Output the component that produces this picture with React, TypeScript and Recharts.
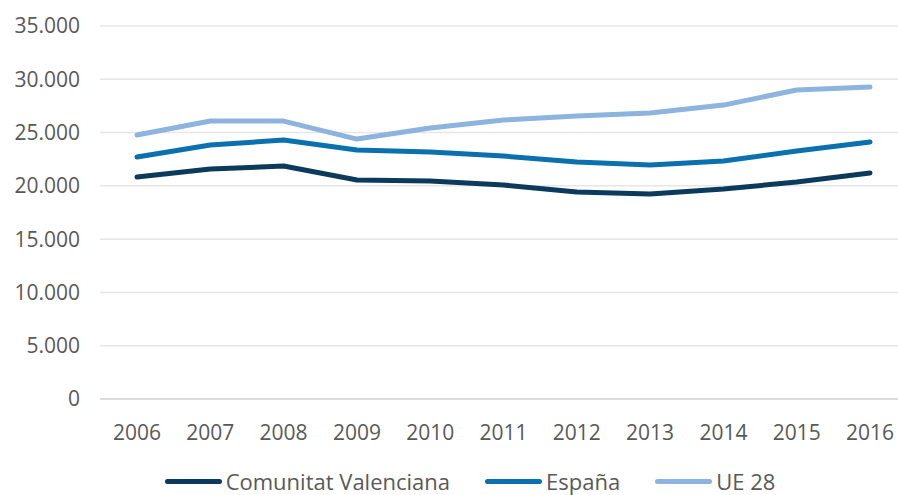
import { LineChart, Line, XAxis, YAxis, CartesianGrid, Legend } from "recharts";

const years = ["2006", "2007", "2008", "2009", "2010", "2011", "2012", "2013", "2014", "2015", "2016"];
const comunitatValenciana = [20830, 21580, 21860, 20550, 20450, 20080, 19420, 19230, 19700, 20360, 21200];
const espana = [22700, 23830, 24300, 23360, 23170, 22800, 22230, 21950, 22330, 23270, 24110];
const ue28 = [24770, 26080, 26080, 24390, 25420, 26170, 26550, 26830, 27580, 28990, 29270];
const yTicks = [0, 5000, 10000, 15000, 20000, 25000, 30000, 35000];

const series = [
  { key: "cv", name: "Comunitat Valenciana", color: "#0b3a5c" },
  { key: "es", name: "España", color: "#0a70ae" },
  { key: "ue", name: "UE 28", color: "#8db4de" },
];

const data = years.map((year, i) => ({
  year,
  cv: comunitatValenciana[i],
  es: espana[i],
  ue: ue28[i],
}));

const FONT = "'Open Sans', sans-serif";
const TEXT = "#595959";

function LegendRow() {
  return (
    <div style={{ height: 46, display: "flex", justifyContent: "center", alignItems: "flex-start", paddingTop: 20, paddingLeft: 42, boxSizing: "border-box", fontFamily: FONT, fontSize: 22, color: TEXT }}>
      {series.map((s, i) => (
        <div key={s.key} style={{ display: "flex", alignItems: "center", marginLeft: i === 0 ? 0 : 35, lineHeight: "24px" }}>
          <div style={{ width: 57, height: 5, borderRadius: 3, background: s.color, marginRight: 4 }} />
          <span>{s.name}</span>
        </div>
      ))}
    </div>
  );
}

export default function App() {
  return (
    <div style={{ position: "absolute", left: 0, top: 0, background: "#fff" }}>
      <LineChart width={898} height={495} data={data} margin={{ top: 26, right: 0, left: 0, bottom: 0 }}>
        <CartesianGrid vertical={false} stroke="#e6e6e6" strokeWidth={1.5} />
        <XAxis
          dataKey="year"
          axisLine={{ stroke: "#d9d9d9", strokeWidth: 1.5 }}
          tickLine={false}
          height={50}
          tickMargin={20}
          padding={{ left: 37, right: 28 }}
          tick={{ fontSize: 21, fill: TEXT, fontFamily: FONT }}
          interval={0}
        />
        <YAxis
          width={100}
          domain={[0, 35000]}
          ticks={yTicks}
          axisLine={false}
          tickLine={false}
          tickMargin={14}
          tick={{ fontSize: 21, fill: TEXT, fontFamily: FONT }}
          tickFormatter={(v) => v.toLocaleString("es-ES", { useGrouping: true }).replace(/\s/g, ".") }
        />
        <Legend verticalAlign="bottom" content={() => <LegendRow />} />
        {series.map((s) => (
          <Line
            key={s.key}
            type="linear"
            dataKey={s.key}
            name={s.name}
            stroke={s.color}
            strokeWidth={5}
            strokeLinecap="round"
            strokeLinejoin="round"
            dot={false}
            activeDot={false}
            isAnimationActive={false}
          />
        ))}
      </LineChart>
    </div>
  );
}
